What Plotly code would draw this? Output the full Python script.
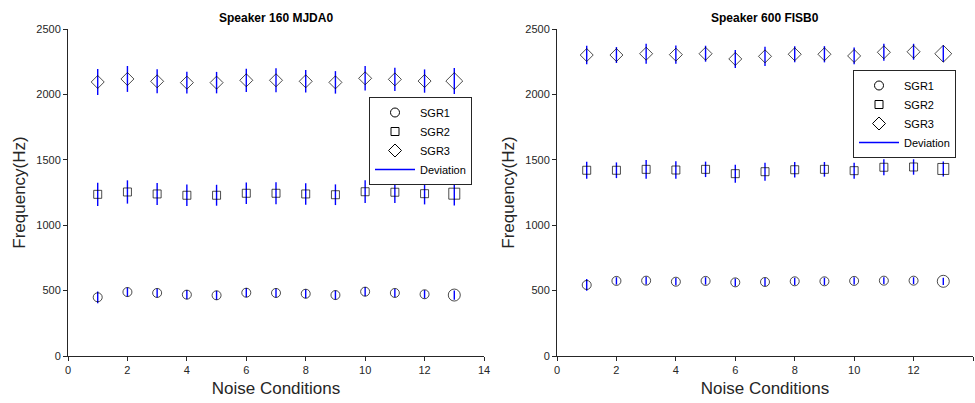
import plotly.graph_objects as go

conditions = list(range(1, 14))

# Speaker 160 MJDA0
left_titles = "Speaker 160 MJDA0"
l_sgr1 = [449, 489, 482, 469, 464, 484, 482, 476, 466, 492, 482, 472, 466]
l_sgr1_sd = [45, 35, 35, 35, 35, 35, 35, 35, 35, 35, 32, 32, 35]
l_sgr2 = [1236, 1254, 1239, 1229, 1229, 1244, 1244, 1239, 1233, 1256, 1252, 1241, 1241]
l_sgr2_sd = [89, 89, 84, 82, 80, 82, 84, 82, 79, 87, 83, 82, 90]
l_sgr3 = [2095, 2118, 2100, 2090, 2090, 2108, 2108, 2100, 2092, 2123, 2115, 2102, 2102]
l_sgr3_sd = [99, 99, 92, 84, 82, 89, 92, 86, 86, 94, 89, 89, 99]

# Speaker 600 FISB0
right_titles = "Speaker 600 FISB0"
r_sgr1 = [543, 574, 576, 568, 574, 563, 566, 571, 571, 574, 576, 576, 571]
r_sgr1_sd = [45, 28, 30, 28, 28, 30, 30, 28, 28, 28, 26, 26, 28]
r_sgr2 = [1420, 1420, 1427, 1422, 1427, 1394, 1409, 1424, 1427, 1417, 1443, 1445, 1430]
r_sgr2_sd = [65, 60, 71, 66, 59, 69, 69, 59, 56, 61, 62, 59, 57]
r_sgr3 = [2301, 2301, 2311, 2304, 2311, 2271, 2291, 2307, 2307, 2294, 2322, 2326, 2311]
r_sgr3_sd = [70, 61, 76, 70, 61, 69, 74, 62, 62, 64, 65, 61, 64]

series_names = ["SGR1", "SGR2", "SGR3"]
symbols = ["circle-open", "square-open", "diamond-open"]
base_sizes = [9, 8, 10]

FONT = "Liberation Sans, Arial, sans-serif"
AX = "#262626"

fig = go.Figure()

panels = [
    ("x", "y", "legend", [(l_sgr1, l_sgr1_sd), (l_sgr2, l_sgr2_sd), (l_sgr3, l_sgr3_sd)]),
    ("x2", "y2", "legend2", [(r_sgr1, r_sgr1_sd), (r_sgr2, r_sgr2_sd), (r_sgr3, r_sgr3_sd)]),
]

for xa, ya, lg, data in panels:
    for i, (vals, sds) in enumerate(data):
        sizes = [base_sizes[i]] * (len(conditions) - 1) + [base_sizes[i] + 3]
        fig.add_trace(go.Scatter(
            x=conditions, y=vals, mode="markers", xaxis=xa, yaxis=ya,
            marker=dict(symbol=symbols[i], size=sizes, color="black", line=dict(width=1, color="black")),
            error_y=dict(type="data", array=sds, visible=True, color="#0000ff", thickness=1.4, width=0),
            showlegend=False, hoverinfo="skip",
        ))
    for i in range(3):
        fig.add_trace(go.Scatter(
            x=[None], y=[None], mode="markers", xaxis=xa, yaxis=ya, name=series_names[i],
            marker=dict(symbol=symbols[i], size=base_sizes[i], color="black", line=dict(width=1, color="black")),
            legend=lg,
        ))
    fig.add_trace(go.Scatter(
        x=[None], y=[None], mode="lines", xaxis=xa, yaxis=ya, name="Deviation",
        line=dict(color="#0000ff", width=1.5), legend=lg,
    ))

xcommon = dict(range=[0, 14], tickvals=[0, 2, 4, 6, 8, 10, 12, 14], showgrid=False, zeroline=False,
               showline=True, linecolor=AX, linewidth=1, ticks="outside", ticklen=4, tickcolor=AX,
               tickfont=dict(family=FONT, size=11, color=AX), automargin=False,
               title=dict(text="Noise Conditions", font=dict(family=FONT, size=17, color=AX), standoff=6))
ycommon = dict(range=[0, 2500], tickvals=[0, 500, 1000, 1500, 2000, 2500], showgrid=False, zeroline=False,
               showline=True, linecolor=AX, linewidth=1, ticks="outside", ticklen=4, tickcolor=AX,
               tickfont=dict(family=FONT, size=11, color=AX), automargin=False,
               title=dict(text="Frequency(Hz)", font=dict(family=FONT, size=17, color=AX), standoff=6))

ybot, ytop = 47 / 403, 374 / 403
fig.update_layout(
    width=975, height=403, margin=dict(l=0, r=0, t=0, b=0, autoexpand=False),
    paper_bgcolor="white", plot_bgcolor="white",
    xaxis=dict(domain=[68 / 975, 484 / 975], anchor="y", **xcommon),
    yaxis=dict(domain=[ybot, ytop], anchor="x", **ycommon),
    xaxis2=dict(domain=[557 / 975, 973 / 975], anchor="y2", **xcommon),
    yaxis2=dict(domain=[ybot, ytop], anchor="x2", **ycommon),
    legend=dict(x=369 / 975, y=1 - 97 / 403, xanchor="left", yanchor="top", bgcolor="white",
                bordercolor=AX, borderwidth=1, font=dict(family=FONT, size=11, color="black"),
                tracegroupgap=0, itemwidth=40),
    legend2=dict(x=853 / 975, y=1 - 70 / 403, xanchor="left", yanchor="top", bgcolor="white",
                 bordercolor=AX, borderwidth=1, font=dict(family=FONT, size=11, color="black"),
                 tracegroupgap=0, itemwidth=40),
    annotations=[
        dict(text="<b>" + left_titles + "</b>", x=(68 + 484) / 2 / 975, y=1 - 18 / 403, xref="paper", yref="paper",
             showarrow=False, font=dict(family=FONT, size=12, color="black"), xanchor="center", yanchor="middle"),
        dict(text="<b>" + right_titles + "</b>", x=(557 + 973) / 2 / 975, y=1 - 18 / 403, xref="paper", yref="paper",
             showarrow=False, font=dict(family=FONT, size=12, color="black"), xanchor="center", yanchor="middle"),
    ],
)

fig.write_html("out.html", config={"displayModeBar": False},
               post_script="document.body.style.margin='0px';document.body.style.overflow='hidden';")
